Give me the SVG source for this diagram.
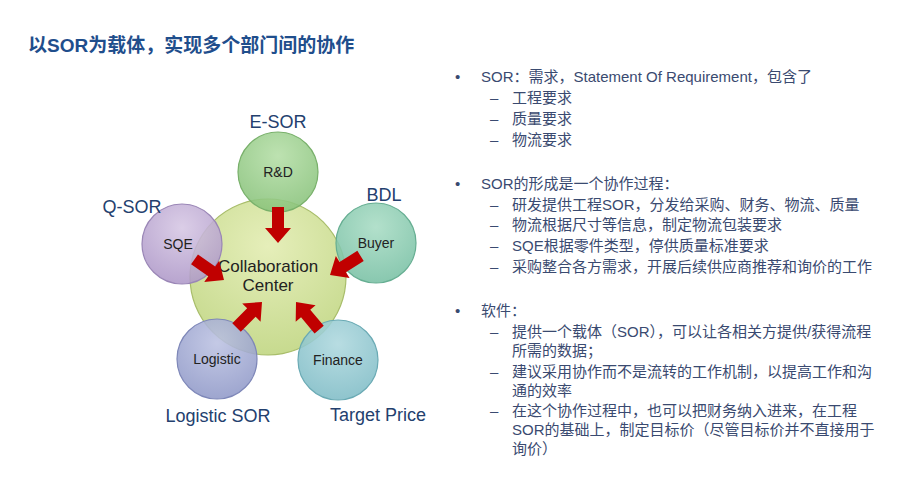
<svg xmlns="http://www.w3.org/2000/svg" width="900" height="480" viewBox="0 0 900 480">
<defs>
<style>
.t{font-family:"Liberation Sans","Noto Sans CJK SC",sans-serif;fill:#3a4a70;font-size:15px}
.lab{font-family:"Liberation Sans",sans-serif;fill:#23406e;font-size:18px;text-anchor:middle}
.nt{font-family:"Liberation Sans",sans-serif;fill:#222;font-size:14px;text-anchor:middle}
.c{stroke-width:1.2;fill-opacity:0.88}
</style>
<radialGradient id="gc" cx="0.5" cy="0.3" r="0.7"><stop offset="0" stop-color="#e2ecb0"/><stop offset="1" stop-color="#bfd57f"/></radialGradient>
<radialGradient id="g1" cx="0.5" cy="0.3" r="0.7"><stop offset="0" stop-color="#b4dea6"/><stop offset="1" stop-color="#88c27a"/></radialGradient>
<radialGradient id="g2" cx="0.5" cy="0.3" r="0.7"><stop offset="0" stop-color="#d6c7e4"/><stop offset="1" stop-color="#ae98c8"/></radialGradient>
<radialGradient id="g3" cx="0.5" cy="0.3" r="0.7"><stop offset="0" stop-color="#a8dcc4"/><stop offset="1" stop-color="#78c0a4"/></radialGradient>
<radialGradient id="g4" cx="0.5" cy="0.3" r="0.7"><stop offset="0" stop-color="#bcc2e2"/><stop offset="1" stop-color="#9099c8"/></radialGradient>
<radialGradient id="g5" cx="0.5" cy="0.3" r="0.7"><stop offset="0" stop-color="#aed8de"/><stop offset="1" stop-color="#7fbcc6"/></radialGradient>
<path id="arr" d="M-6,-36 L6,-36 L6,-15 L13,-15 L0,0 L-13,-15 L-6,-15 Z" fill="#c00000"/>
</defs>
<rect width="900" height="480" fill="#fff"/>
<text x="28" y="52" font-family="Liberation Sans,Noto Sans CJK SC,sans-serif" font-size="19" font-weight="bold" fill="#1f4e8c">以SOR为载体，实现多个部门间的协作</text>

<g id="center"><circle cx="268" cy="277" r="78" fill="url(#gc)" class="c" stroke="#a8bd6a"/></g>
<g id="rd"><circle cx="278" cy="172" r="40" fill="url(#g1)" class="c" stroke="#78b06a"/><text class="nt" x="278" y="177">R&amp;D</text><text class="lab" x="278" y="128">E-SOR</text></g>
<g id="sqe"><circle cx="182" cy="244" r="40" fill="url(#g2)" class="c" stroke="#9a86b6"/><text class="nt" x="178" y="249">SQE</text><text class="lab" x="132" y="213">Q-SOR</text></g>
<g id="buyer"><circle cx="376" cy="243" r="40" fill="url(#g3)" class="c" stroke="#66ae92"/><text class="nt" x="376" y="248">Buyer</text><text class="lab" x="384" y="201">BDL</text></g>
<g id="logistic"><circle cx="217" cy="359" r="40" fill="url(#g4)" class="c" stroke="#7e87b8"/><text class="nt" x="217" y="364">Logistic</text><text class="lab" x="218" y="422">Logistic SOR</text></g>
<g id="finance"><circle cx="338" cy="360" r="40" fill="url(#g5)" class="c" stroke="#6aaab4"/><text class="nt" x="338" y="365">Finance</text><text class="lab" x="378" y="421">Target Price</text></g>
<g id="centerlabel"><text x="268" y="272" font-family="Liberation Sans,sans-serif" font-size="17" text-anchor="middle" fill="#222">Collaboration</text><text x="268" y="291" font-family="Liberation Sans,sans-serif" font-size="17" text-anchor="middle" fill="#222">Center</text></g>

<g id="connectors">
<use href="#arr" transform="translate(278,243)"/>
<use href="#arr" transform="translate(224,280) rotate(-55)"/>
<use href="#arr" transform="translate(330,275) rotate(58)"/>
<use href="#arr" transform="translate(262,302) rotate(-135)"/>
<use href="#arr" transform="translate(296,302) rotate(140)"/>
</g>

<g id="text" class="t">
<text x="455" y="82">•</text><text x="481" y="82">SOR：需求，Statement Of Requirement，包含了</text>
<text x="490" y="103">–</text><text x="512" y="103">工程要求</text>
<text x="490" y="124">–</text><text x="512" y="124">质量要求</text>
<text x="490" y="145">–</text><text x="512" y="145">物流要求</text>
<text x="455" y="189">•</text><text x="481" y="189">SOR的形成是一个协作过程：</text>
<text x="490" y="210">–</text><text x="512" y="210">研发提供工程SOR，分发给采购、财务、物流、质量</text>
<text x="490" y="230">–</text><text x="512" y="230">物流根据尺寸等信息，制定物流包装要求</text>
<text x="490" y="251">–</text><text x="512" y="251">SQE根据零件类型，停供质量标准要求</text>
<text x="490" y="272">–</text><text x="512" y="272">采购整合各方需求，开展后续供应商推荐和询价的工作</text>
<text x="455" y="316">•</text><text x="481" y="316">软件：</text>
<text x="490" y="337">–</text><text x="512" y="337">提供一个载体（SOR），可以让各相关方提供/获得流程</text>
<text x="512" y="356">所需的数据；</text>
<text x="490" y="377">–</text><text x="512" y="377">建议采用协作而不是流转的工作机制，以提高工作和沟</text>
<text x="512" y="396">通的效率</text>
<text x="490" y="416">–</text><text x="512" y="416">在这个协作过程中，也可以把财务纳入进来，在工程</text>
<text x="512" y="435">SOR的基础上，制定目标价（尽管目标价并不直接用于</text>
<text x="512" y="454">询价）</text>
</g>
</svg>
